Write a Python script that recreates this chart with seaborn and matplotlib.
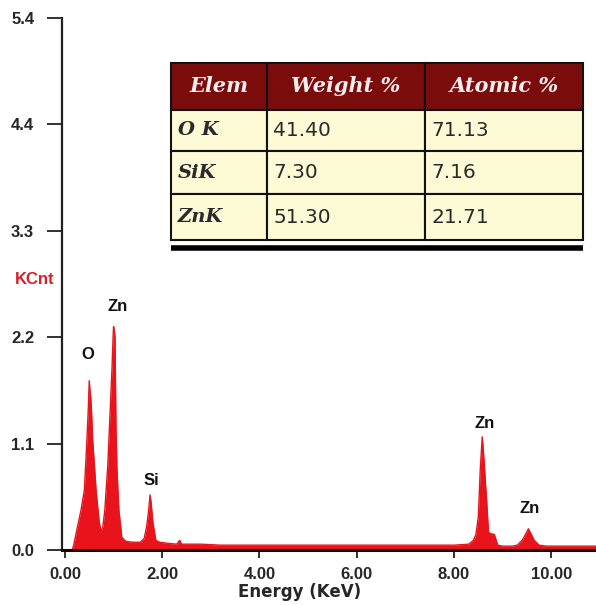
import numpy as np
import pandas as pd
import seaborn as sns
import matplotlib.pyplot as plt

# spectrum (energy in keV, counts in KCnt)
energy = [0.15, 0.18, 0.25, 0.33, 0.40, 0.45, 0.48, 0.50, 0.52, 0.53,
          0.55, 0.57, 0.61, 0.64, 0.70, 0.74, 0.78, 0.82, 0.88, 0.92,
          0.97, 0.99, 1.00, 1.02, 1.03, 1.05, 1.07, 1.11, 1.17, 1.25,
          1.40, 1.55, 1.63, 1.68, 1.72, 1.75, 1.77, 1.81, 1.87, 1.95,
          2.10, 2.30, 2.36, 2.40, 2.80, 3.20, 3.60, 4.00, 4.50, 5.00,
          5.50, 6.00, 6.50, 7.00, 7.50, 8.00, 8.30, 8.40, 8.45, 8.50,
          8.54, 8.58, 8.60, 8.62, 8.67, 8.71, 8.76, 8.83, 8.90, 9.00,
          9.20, 9.30, 9.40, 9.48, 9.53, 9.58, 9.65, 9.75, 9.90, 10.30,
          10.70, 11.00]
kcnt = [0.00, 0.05, 0.22, 0.41, 0.62, 1.11, 1.45, 1.75, 1.62, 1.59,
        1.40, 1.14, 0.85, 0.62, 0.31, 0.19, 0.24, 0.41, 0.86, 1.32,
        1.90, 2.20, 2.31, 2.25, 2.20, 1.24, 0.83, 0.41, 0.13, 0.09,
        0.08, 0.08, 0.12, 0.24, 0.40, 0.57, 0.50, 0.28, 0.10, 0.08,
        0.07, 0.06, 0.10, 0.06, 0.06, 0.05, 0.05, 0.05, 0.05, 0.05,
        0.05, 0.05, 0.05, 0.05, 0.05, 0.05, 0.06, 0.10, 0.16, 0.34,
        0.83, 1.17, 1.05, 0.90, 0.52, 0.18, 0.17, 0.16, 0.05, 0.04,
        0.04, 0.05, 0.10, 0.17, 0.22, 0.17, 0.10, 0.05, 0.04, 0.04,
        0.04, 0.04]

# peak labels
peak_names = ["O", "Zn", "Si", "Zn", "Zn"]
peak_x = [0.47, 1.09, 1.78, 8.62, 9.55]
peak_y = [2.02, 2.52, 0.72, 1.31, 0.43]

# axis ticks
xticks = [0, 2, 4, 6, 8, 10]
xtick_labels = ["0.00", "2.00", "4.00", "6.00", "8.00", "10.00"]
yticks = [0, 1.1, 2.2, 3.3, 4.4, 5.5]
ytick_labels = ["0.0", "1.1", "2.2", "3.3", "4.4", "5.4"]

# quantification table
col_labels = ["Elem", "Weight %", "Atomic %"]
elements = ["O K", "SiK", "ZnK"]
weight_pct = ["41.40", "7.30", "51.30"]
atomic_pct = ["71.13", "7.16", "21.71"]

df = pd.DataFrame({"energy": energy, "kcnt": kcnt})

sns.set_style("ticks")
plt.rcParams['font.family'] = ['Liberation Sans', 'DejaVu Sans']

fig = plt.figure(figsize=(5.96, 6.05), dpi=100)
ax = fig.add_axes([62 / 596, 55 / 605, 534 / 596, 532 / 605])

red = "#e8131b"
sns.lineplot(data=df, x="energy", y="kcnt", ax=ax, color=red, lw=1.0)
ax.fill_between(df["energy"], 0, df["kcnt"], color=red, lw=0)

ax.set_xlim(-0.06, 10.92)
ax.set_ylim(0, 5.5)
ax.set_xticks(xticks)
ax.set_xticklabels(xtick_labels, fontsize=12, fontweight="bold")
ax.set_yticks(yticks)
ax.set_yticklabels(ytick_labels, fontsize=12, fontweight="bold")
ax.tick_params(axis="y", length=11, width=1.3, pad=9, color="#222222")
ax.tick_params(axis="x", length=6, width=1.3, pad=6, color="#222222")
ax.set_xlabel("")
ax.set_ylabel("")
sns.despine(ax=ax)
ax.spines["left"].set_linewidth(1.6)
ax.spines["bottom"].set_linewidth(2.2)
ax.spines["left"].set_color("#222222")
ax.spines["bottom"].set_color("#1a0000")

fig.text(300 / 596, 1 - 592 / 605, "Energy (KeV)", ha="center", va="center",
         fontsize=12, fontweight="bold", family="DejaVu Sans")
fig.text(15 / 596, 1 - 280 / 605, "KCnt", ha="left", va="center",
         fontsize=12, fontweight="bold", color="#d8202a")

for name, px, py in zip(peak_names, peak_x, peak_y):
    ax.text(px, py, name, ha="center", va="center", fontsize=12,
            fontweight="bold", color="#111111")

# table
cell_text = [[e, w, a] for e, w, a in zip(elements, weight_pct, atomic_pct)]
tbl = ax.table(cellText=cell_text, colLabels=col_labels,
               bbox=[0.204, 0.583, 0.772, 0.332], cellLoc="left")
tbl.auto_set_font_size(False)
col_w = [96, 158, 158]
row_h = [46, 41, 43, 45]
for (r, c), cell in tbl.get_celld().items():
    cell.set_width(col_w[c])
    cell.set_height(row_h[r])
    cell.set_edgecolor("#111111")
    cell.set_linewidth(1.5)
    txt = cell.get_text()
    if r == 0:
        cell.set_facecolor("#7b0c0c")
        txt.set_color("#fbeeee")
        txt.set_fontfamily("DejaVu Serif")
        txt.set_fontstyle("italic")
        txt.set_fontweight("bold")
        txt.set_fontsize(15)
        cell._loc = "center" if c > 0 else "left"
        cell.PAD = 0.07
    else:
        cell.set_facecolor("#fdfbd6")
        txt.set_color("#2a2a2a")
        if c == 0:
            txt.set_fontfamily("DejaVu Serif")
            txt.set_fontstyle("italic")
            txt.set_fontweight("bold")
            txt.set_fontsize(14)
            cell.PAD = 0.07
        else:
            txt.set_fontfamily("DejaVu Sans")
            txt.set_fontsize(14.5)
            cell.PAD = 0.04
ax.plot([0.204, 0.976], [0.568, 0.568], transform=ax.transAxes,
        color="black", lw=4, solid_capstyle="butt", clip_on=False)

fig.savefig("out.png", dpi=100)
